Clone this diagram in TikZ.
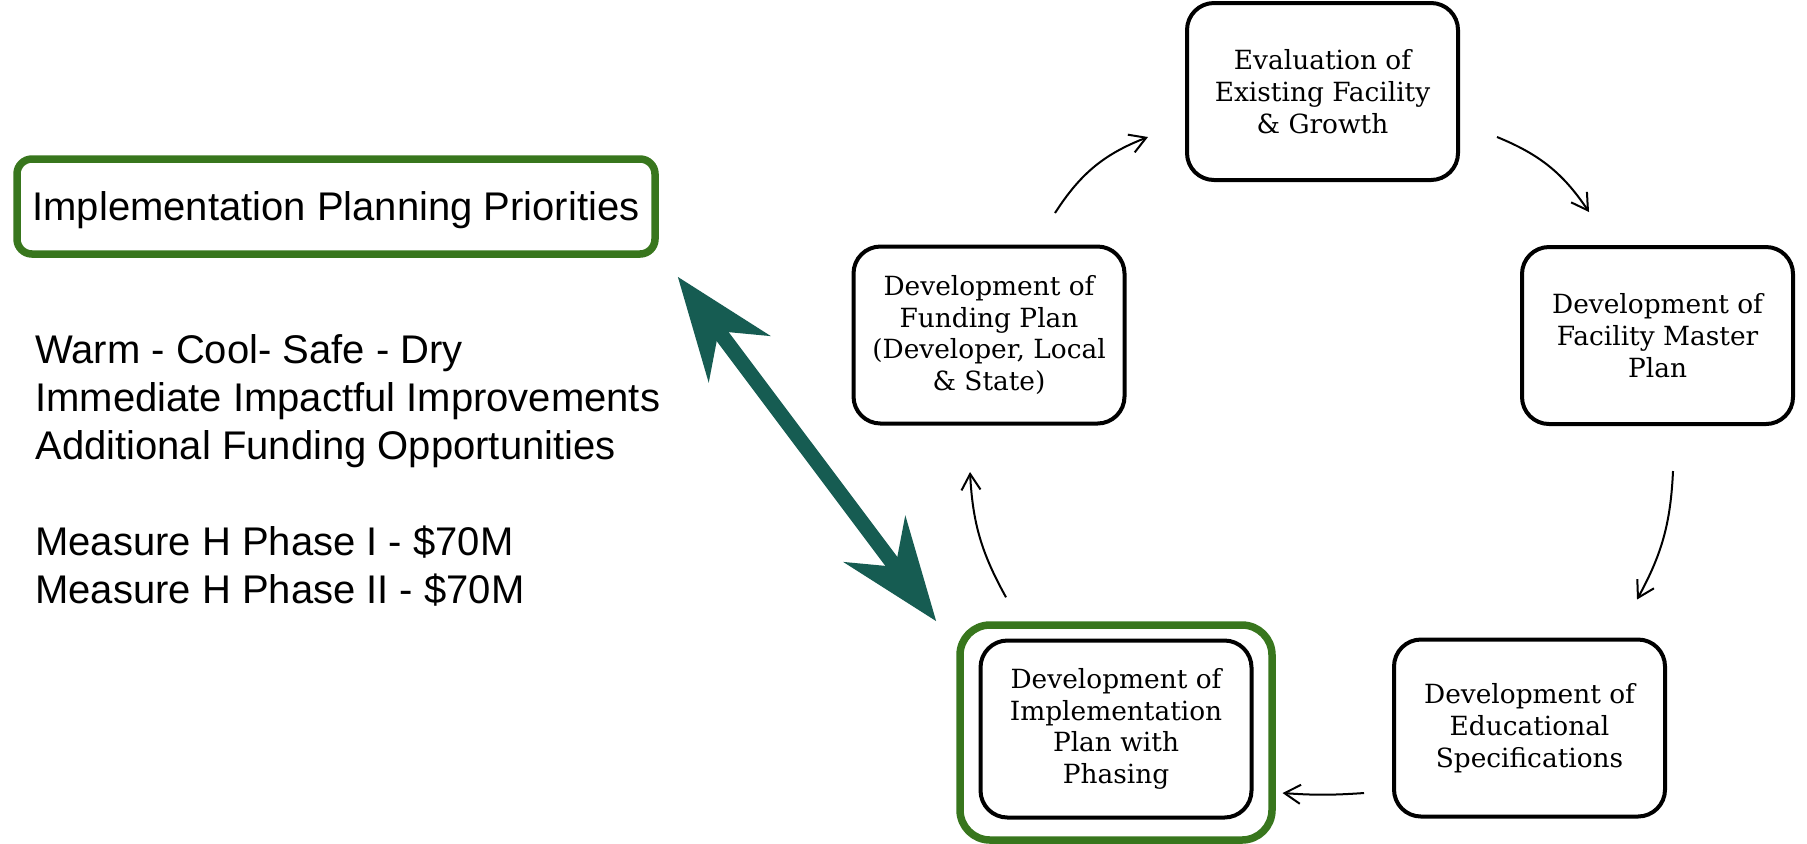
\documentclass[tikz,border=0pt]{standalone}
\usepackage{fontspec}
\setmainfont{DejaVu Serif}
\newfontfamily\arialfont{Liberation Sans}
\usetikzlibrary{arrows.meta}
\definecolor{leafgreen}{RGB}{56,118,29}
\definecolor{deepteal}{RGB}{22,92,82}

\begin{document}
\begin{tikzpicture}
        [x=0.5pt, y=-0.5pt,
        stage/.style={draw, line width=2pt, rounded corners=13.5pt, align=center,
            minimum width=135.5pt, minimum height=88.5pt, inner sep=0pt,
            font=\fontsize{13.2}{15.85}\selectfont},
        highlight/.style={draw=leafgreen, line width=3.75pt, rounded corners=15pt,
            minimum width=156pt, minimum height=107.5pt, inner sep=0pt},
        priobox/.style={draw=leafgreen, line width=3.75pt, rounded corners=7.5pt,
            minimum width=319pt, minimum height=47.5pt, text height=14.3pt, text depth=0pt,
            font=\arialfont\fontsize{20}{24}\selectfont},
        cycle/.style={black, line width=1pt, -{Straight Barb[length=8pt, width=9.5pt]}},
        link/.style={deepteal, line width=7.5pt,
            {Stealth[length=51pt, width=38pt, inset=17pt]}-{Stealth[length=51pt, width=38pt, inset=17pt]}}]

        \useasboundingbox (0,0) rectangle (1807,843);

        % cycle of planning stages
        \node[stage] (eval) at (1322.5,91.5) {Evaluation of\\ Existing Facility\\ \& Growth};
        \node[stage] (master) at (1657.5,335.5) {Development of\\ Facility Master\\ Plan};
        \node[stage] (edu) at (1529.5,728) {Development of\\ Educational\\ Specifications};
        \node[stage] (impl) at (1116,729) {Development of\\ Implementation\\ Plan with\\ Phasing};
        \node[stage] (fund) at (989,335) {Development of\\ Funding Plan\\ (Developer, Local\\ \& State)};
        \node[highlight] (focus) at (1116,732.5) {};

        % left side text
        \node[priobox] (prio) at (336,206.5) {Implementation Planning Priorities};
        \node[anchor=north west, align=left, inner sep=0pt,
            font=\arialfont\fontsize{20}{24}\selectfont] (goals) at (35,334)
            {Warm - Cool- Safe - Dry\\ Immediate Impactful Improvements\\ Additional Funding Opportunities\\[24pt]
             Measure H Phase I - \$70M\\ Measure H Phase II - \$70M};

        % cycle arrows
        \draw[cycle] ([shift={(66,-31.5)}]fund.north) to[bend left=18] ([shift={(-37,45.5)}]eval.west);
        \draw[cycle] ([shift={(37,45.5)}]eval.east) to[bend left=17] ([shift={(-68.5,-33)}]master.north);
        \draw[cycle] ([shift={(15.5,45)}]master.south) to[bend left=13] ([shift={(107.5,-38)}]edu.north);
        \draw[cycle] ([shift={(-28,65)}]edu.west) to[bend left=4] ([shift={(29,64)}]impl.east);
        \draw[cycle] ([shift={(-110,-24)}]focus.north) to[bend left=13] ([shift={(-19,46.5)}]fund.south);

        % link between priorities and implementation plan
        \draw[link] ([shift={(19,19)}]prio.south east) -- ([shift={(-20,0)}]focus.north west);

    \end{tikzpicture}
\end{document}
